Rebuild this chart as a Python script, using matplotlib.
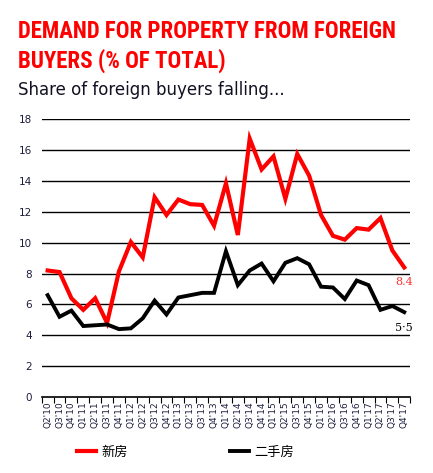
import matplotlib.pyplot as plt
import matplotlib.font_manager as fm

# quarter labels, Q2'10 .. Q4'17
quarters = ["Q2'10", "Q3'10", "Q4'10",
            "Q1'11", "Q2'11", "Q3'11", "Q4'11",
            "Q1'12", "Q2'12", "Q3'12", "Q4'12",
            "Q1'13", "Q2'13", "Q3'13", "Q4'13",
            "Q1'14", "Q2'14", "Q3'14", "Q4'14",
            "Q1'15", "Q2'15", "Q3'15", "Q4'15",
            "Q1'16", "Q2'16", "Q3'16", "Q4'16",
            "Q1'17", "Q2'17", "Q3'17", "Q4'17"]

# new homes (red)
new_homes = [8.2, 8.1, 6.4, 5.65, 6.4, 4.8, 8.15, 10.05, 9.05, 12.95, 11.8,
             12.8, 12.5, 12.45, 11.1, 13.85, 10.5, 16.75, 14.75, 15.6, 12.85,
             15.75, 14.35, 11.8, 10.45, 10.2, 10.95, 10.85, 11.6, 9.5, 8.4]

# resale homes (black)
resale = [6.6, 5.2, 5.6, 4.6, 4.65, 4.7, 4.4, 4.45, 5.1, 6.25, 5.35,
          6.45, 6.6, 6.75, 6.75, 9.45, 7.25, 8.2, 8.65, 7.5, 8.7,
          9.0, 8.6, 7.15, 7.1, 6.35, 7.55, 7.25, 5.65, 5.9, 5.5]

legend_names = ["新房", "二手房"]
title_lines = ["DEMAND FOR PROPERTY FROM FOREIGN", "BUYERS (% OF TOTAL)"]
yticks = list(range(0, 19, 2))

cjk = ["Noto Sans CJK SC", "DejaVu Sans"]

# pick the narrowest installed face for the condensed headline
installed = {f.name for f in fm.fontManager.ttflist}
title_font = "Roboto"
for name in ["Roboto Condensed", "Liberation Sans Narrow", "DejaVu Sans Condensed",
             "Open Sans Condensed", "Roboto"]:
    if name in installed:
        title_font = name
        break

fig = plt.figure(figsize=(4.33, 4.73), dpi=100)
ax = fig.add_axes([0.0963, 0.1607, 0.851, 0.587])

x = list(range(len(quarters)))
ax.plot(x, new_homes, color="#ff0000", lw=3.0, solid_joinstyle="miter", zorder=3)
ax.plot(x, resale, color="#000000", lw=2.8, solid_joinstyle="miter", zorder=3)

ax.set_xlim(-0.5, len(quarters) - 0.5)
ax.set_ylim(0, 18)
ax.set_yticks(yticks)
ax.set_yticklabels([str(v) for v in yticks], fontsize=7.5, color="#1c1c3c")
for v in yticks[1:]:
    ax.axhline(v, color="black", lw=1.0, zorder=1)
ax.tick_params(axis="y", length=0, pad=7)

# category ticks on the boundaries, labels in the middle
ax.set_xticks([i - 0.5 for i in range(len(quarters) + 1)])
ax.set_xticklabels([])
ax.set_xticks(x, minor=True)
ax.set_xticklabels(quarters, minor=True, rotation=90, fontsize=6.5, color="#1c1c3c")
ax.tick_params(axis="x", which="major", length=4, width=0.8, direction="out")
ax.tick_params(axis="x", which="minor", length=0, pad=3)

for s in ["top", "right", "left"]:
    ax.spines[s].set_visible(False)
ax.spines["bottom"].set_linewidth(1.2)
ax.spines["bottom"].set_zorder(4)

# end labels
ax.annotate("8.4", (x[-1], new_homes[-1]), xytext=(0, -7), textcoords="offset points",
            ha="center", va="top", fontsize=8, color="#ff3030", family="DejaVu Serif")
ax.annotate("5·5", (x[-1], resale[-1]), xytext=(0, -8), textcoords="offset points",
            ha="center", va="top", fontsize=8, color="black", family="DejaVu Serif")

# headline: two lines on the reference baselines, shrunk to the reference width
t1 = fig.text(0.042, 1 - 38 / 473, title_lines[0], color="#ff0000", fontsize=22,
              fontweight="bold", family=title_font, va="baseline", ha="left")
t2 = fig.text(0.042, 1 - 68 / 473, title_lines[1], color="#ff0000", fontsize=22,
              fontweight="bold", family=title_font, va="baseline", ha="left")
renderer = fig.canvas.get_renderer()
size = 22
while t1.get_window_extent(renderer).width > 378 and size > 8:
    size -= 0.25
    t1.set_fontsize(size)
t2.set_fontsize(size)

fig.text(0.042, 0.81, "Share of foreign buyers falling...", fontsize=12,
         color="#111122", va="center", ha="left")

leg = ax.legend(legend_names, loc="center left", bbox_to_anchor=(0.151, 0.044),
                bbox_transform=fig.transFigure, ncol=2, frameon=False,
                handlelength=1.4, columnspacing=7.8, handletextpad=0.4,
                prop={"family": cjk, "size": 9.5})

fig.savefig("out.png", dpi=100)
